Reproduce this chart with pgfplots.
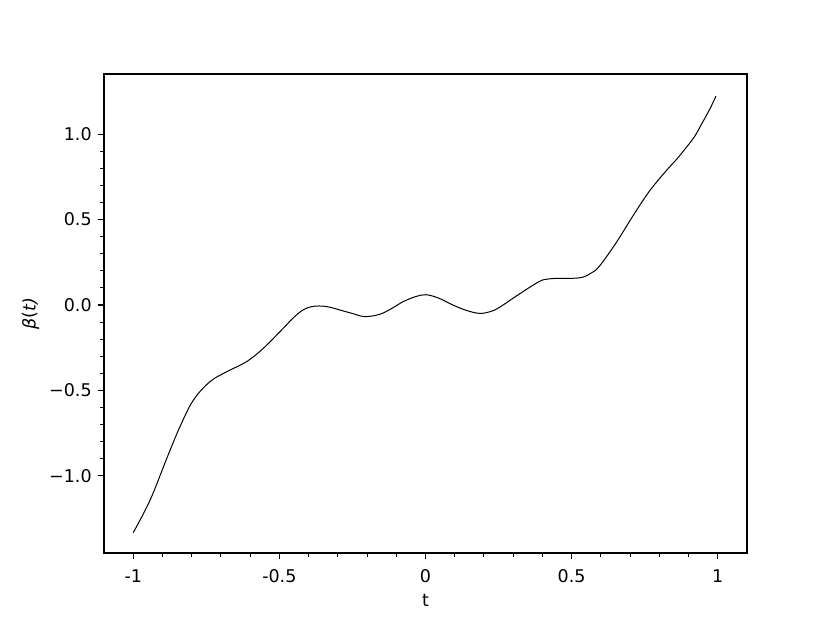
\documentclass[border=0pt]{standalone}
\usepackage{fontspec}
\setmainfont{DejaVu Sans}
\usepackage{pgfplots}
\pgfplotsset{compat=1.18}
\begin{document}
\fontsize{17.5}{21}\selectfont
\begin{tikzpicture}[x=1pt,y=1pt]
\path[use as bounding box] (-104,-70) rectangle (726,553);
\begin{axis}[
  at={(0,0)}, anchor=south west,
  scale only axis, width=643pt, height=479pt,
  xmin=-1.1, xmax=1.1, ymin=-1.453, ymax=1.353,
  axis line style={line width=1.4pt},
  xtick={-1,-0.5,0,0.5,1},
  xticklabels={-1,-0.5,0,0.5,1},
  ytick={-1,-0.5,0,0.5,1},
  yticklabels={−1.0,−0.5,0.0,0.5,1.0},
  minor x tick num=4, minor y tick num=4,
  tick align=outside, xtick pos=bottom, ytick pos=left,
  major tick length=6.3pt, minor tick length=3.6pt,
  every tick/.style={black, line width=1.2pt},
  minor tick style={line width=1pt},
  tick label style={font=\fontsize{17.5}{21}\selectfont},
  xticklabel style={yshift=-4pt},
  xlabel={t}, ylabel={{\itshape β}(\itshape t\/)},
  label style={font=\fontsize{17.5}{21}\selectfont},
  xlabel style={yshift=0pt},
  ylabel style={yshift=-2pt},
]
\addplot[black, line width=1pt, smooth, tension=0.6] coordinates {
(-1.000,-1.334)
(-0.942,-1.142)
(-0.885,-0.898)
(-0.840,-0.713)
(-0.794,-0.557)
(-0.737,-0.449)
(-0.680,-0.391)
(-0.612,-0.332)
(-0.555,-0.254)
(-0.487,-0.137)
(-0.455,-0.080)
(-0.420,-0.030)
(-0.390,-0.010)
(-0.362,-0.006)
(-0.330,-0.012)
(-0.294,-0.029)
(-0.250,-0.050)
(-0.208,-0.068)
(-0.157,-0.055)
(-0.115,-0.020)
(-0.077,0.019)
(-0.035,0.048)
(0.001,0.060)
(0.045,0.040)
(0.093,0.000)
(0.140,-0.032)
(0.184,-0.049)
(0.220,-0.040)
(0.253,-0.014)
(0.321,0.064)
(0.389,0.137)
(0.420,0.152)
(0.457,0.156)
(0.500,0.156)
(0.537,0.162)
(0.565,0.185)
(0.594,0.225)
(0.651,0.361)
(0.708,0.517)
(0.765,0.664)
(0.821,0.781)
(0.860,0.855)
(0.890,0.918)
(0.920,0.985)
(0.946,1.064)
(0.972,1.145)
(0.994,1.224)
};
\end{axis}
\end{tikzpicture}
\end{document}
